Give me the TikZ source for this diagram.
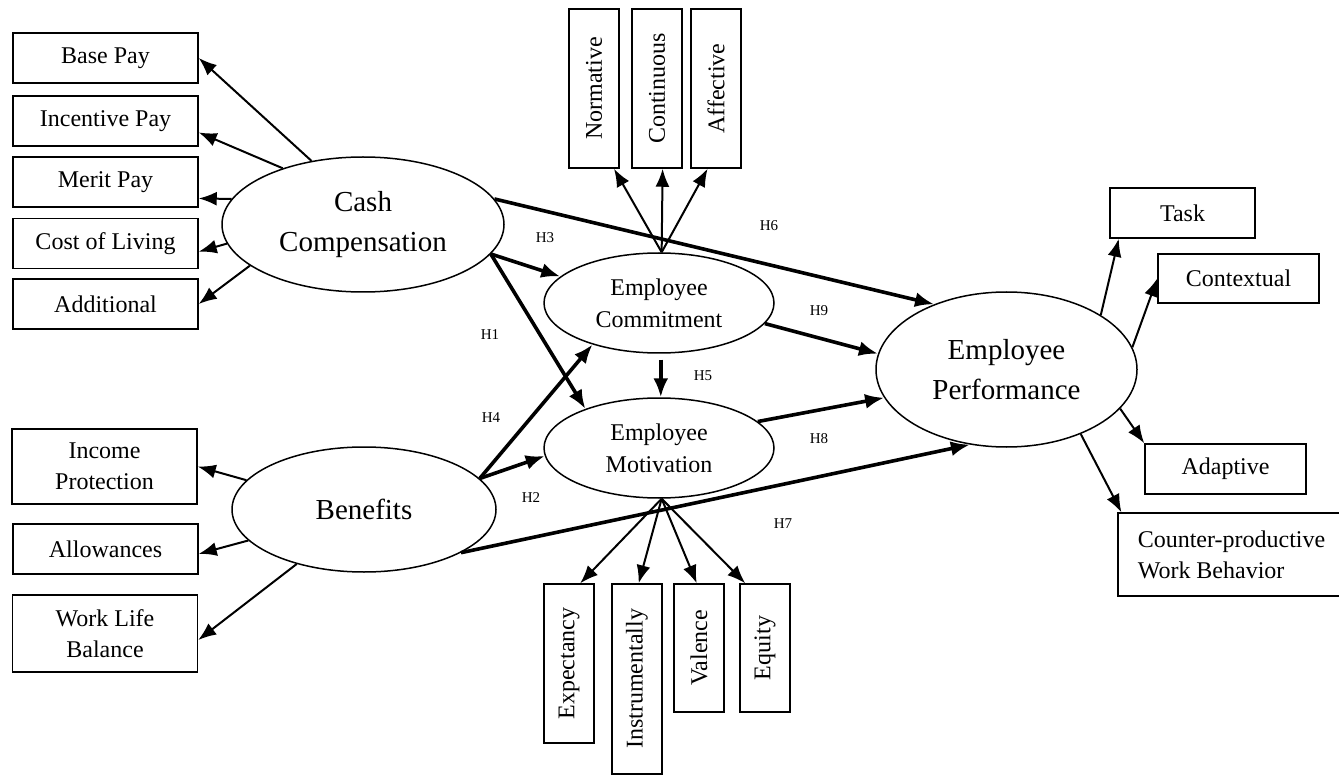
\documentclass[tikz,border=0pt]{standalone}
\usepackage{fontspec}
\setmainfont{Liberation Serif}
\usetikzlibrary{shapes.geometric,arrows.meta}

\begin{document}
\begin{tikzpicture}[x=0.5pt,y=-0.5pt,
  box/.style={draw,line width=0.75pt,inner sep=0pt,align=center,
    font=\fontsize{12}{15.5}\selectfont},
  latent/.style={draw,ellipse,line width=0.75pt,inner sep=0pt,align=center},
  bigtext/.style={font=\fontsize{14.5}{20}\selectfont},
  midtext/.style={font=\fontsize{12}{16}\selectfont},
  thin/.style={line width=1pt,-{Latex[length=9pt,width=7pt]}},
  thick/.style={line width=1.8pt,-{Latex[length=9.5pt,width=7.5pt]}},
  hyp/.style={font=\fontsize{7.5}{9}\selectfont,inner sep=0pt}]
\useasboundingbox (0,0) rectangle (1339,775);

% latent constructs
\node[latent,bigtext,minimum width=141pt,minimum height=67.5pt] (cash) at (363,224.5) {Cash\\Compensation};
\node[latent,bigtext,minimum width=132pt,minimum height=62.5pt] (ben) at (364,509.5) {Benefits};
\node[latent,midtext,minimum width=115pt,minimum height=50pt] (commit) at (659,303) {Employee\\Commitment};
\node[latent,midtext,minimum width=115pt,minimum height=50pt] (motiv) at (659,448) {Employee\\Motivation};
\node[latent,bigtext,minimum width=130.5pt,minimum height=77.5pt] (perf) at (1006.5,369.5) {Employee\\Performance};

% cash compensation indicators
\node[box,minimum width=92.5pt,minimum height=25pt] (base) at (105.5,58) {Base Pay};
\node[box,minimum width=92.5pt,minimum height=25pt] (incent) at (105.5,121) {Incentive Pay};
\node[box,minimum width=92.5pt,minimum height=25pt] (merit) at (105.5,182) {Merit Pay};
\node[box,minimum width=92.5pt,minimum height=25pt] (cost) at (105.5,243.5) {Cost of Living};
\node[box,minimum width=92.5pt,minimum height=25pt] (addl) at (105.5,304) {Additional};

% benefits indicators
\node[box,minimum width=92.5pt,minimum height=37.5pt] (income) at (104.5,466.5) {Income\\Protection};
\node[box,minimum width=92.5pt,minimum height=25pt] (allow) at (105.5,549) {Allowances};
\node[box,minimum width=92.5pt,minimum height=38.5pt] (wlb) at (105,633.5) {Work Life\\Balance};

% commitment indicators
\node[box,minimum width=25pt,minimum height=79.5pt] (norm) at (594,88.5) {\rotatebox{90}{Normative}};
\node[box,minimum width=25pt,minimum height=79.5pt] (cont) at (657,88.5) {\rotatebox{90}{Continuous}};
\node[box,minimum width=25pt,minimum height=79.5pt] (aff) at (716,88.5) {\rotatebox{90}{Affective}};

% motivation indicators
\node[box,minimum width=25pt,minimum height=79.5pt] (expc) at (569,663.5) {\rotatebox{90}{Expectancy}};
\node[box,minimum width=25pt,minimum height=95pt] (instr) at (637,679) {\rotatebox{90}{Instrumentally}};
\node[box,minimum width=25pt,minimum height=64pt] (val) at (699,648) {\rotatebox{90}{Valence}};
\node[box,minimum width=25pt,minimum height=64pt] (eq) at (765,648) {\rotatebox{90}{Equity}};

% performance indicators
\node[box,minimum width=72.5pt,minimum height=25pt] (task) at (1182.5,213) {Task};
\node[box,minimum width=80.5pt,minimum height=24.5pt] (ctx) at (1238.5,278.5) {Contextual};
\node[box,minimum width=80.5pt,minimum height=25pt] (adapt) at (1225.5,469) {Adaptive};
\node[box,align=left,minimum width=113.5pt,minimum height=41.5pt] (cpw) at (1231.5,554.5) {Counter-productive\\Work Behavior};

% measurement arrows
\draw[thin] (cash.129) -- (base.east);
\draw[thin] (cash.145) -- (incent.-7);
\draw[thin] (cash.169) -- (merit.-10);
\draw[thin] (cash.188) -- (cost.-5);
\draw[thin] (cash.200) -- (addl.east);

\draw[thin] (ben.166) -- (income.east);
\draw[thin] (ben.195) -- (allow.-3);
\draw[thin] (ben.219) -- (wlb.-4);

\draw[thin] (commit.87) -- (norm.-76);
\draw[thin] (commit.87) -- (cont.-86);
\draw[thin] (commit.87) -- (aff.-96);

\draw[thin] (motiv.-87) -- (expc.82);
\draw[thin] (motiv.-87) -- (instr.89);
\draw[thin] (motiv.-87) -- (val.92);
\draw[thin] (motiv.-87) -- (eq.107);

\draw[thin] (perf.30) -- (task.202);
\draw[thin] (perf.10) -- (ctx.west);
\draw[thin] (perf.-19) -- (adapt.north west);
\draw[thin] (perf.-41) -- (cpw.159);

% structural paths
\draw[thick] (cash.-13) -- (commit.165);
\draw[thick] (cash.-13) -- (motiv.152);
\draw[thick] (cash.11) -- (perf.138);
\draw[thick] (commit.-11) -- (perf.173);
\draw[thick,shorten <=3pt] (commit.-88) -- (motiv.88);
\draw[thick] (motiv.15) -- (perf.193);
\draw[thick] (ben.15) -- (commit.212);
\draw[thick] (ben.15) -- (motiv.184);
\draw[thick] (ben.-24) -- (perf.244);

% hypothesis labels
\node[hyp] (h1) at (490,335) {H1};
\node[hyp] (h2) at (531,498) {H2};
\node[hyp] (h3) at (545,238) {H3};
\node[hyp] (h4) at (491,418) {H4};
\node[hyp] (h5) at (703,376) {H5};
\node[hyp] (h6) at (769,226) {H6};
\node[hyp] (h7) at (783,524) {H7};
\node[hyp] (h8) at (819,439) {H8};
\node[hyp] (h9) at (819,311) {H9};
\end{tikzpicture}
\end{document}
